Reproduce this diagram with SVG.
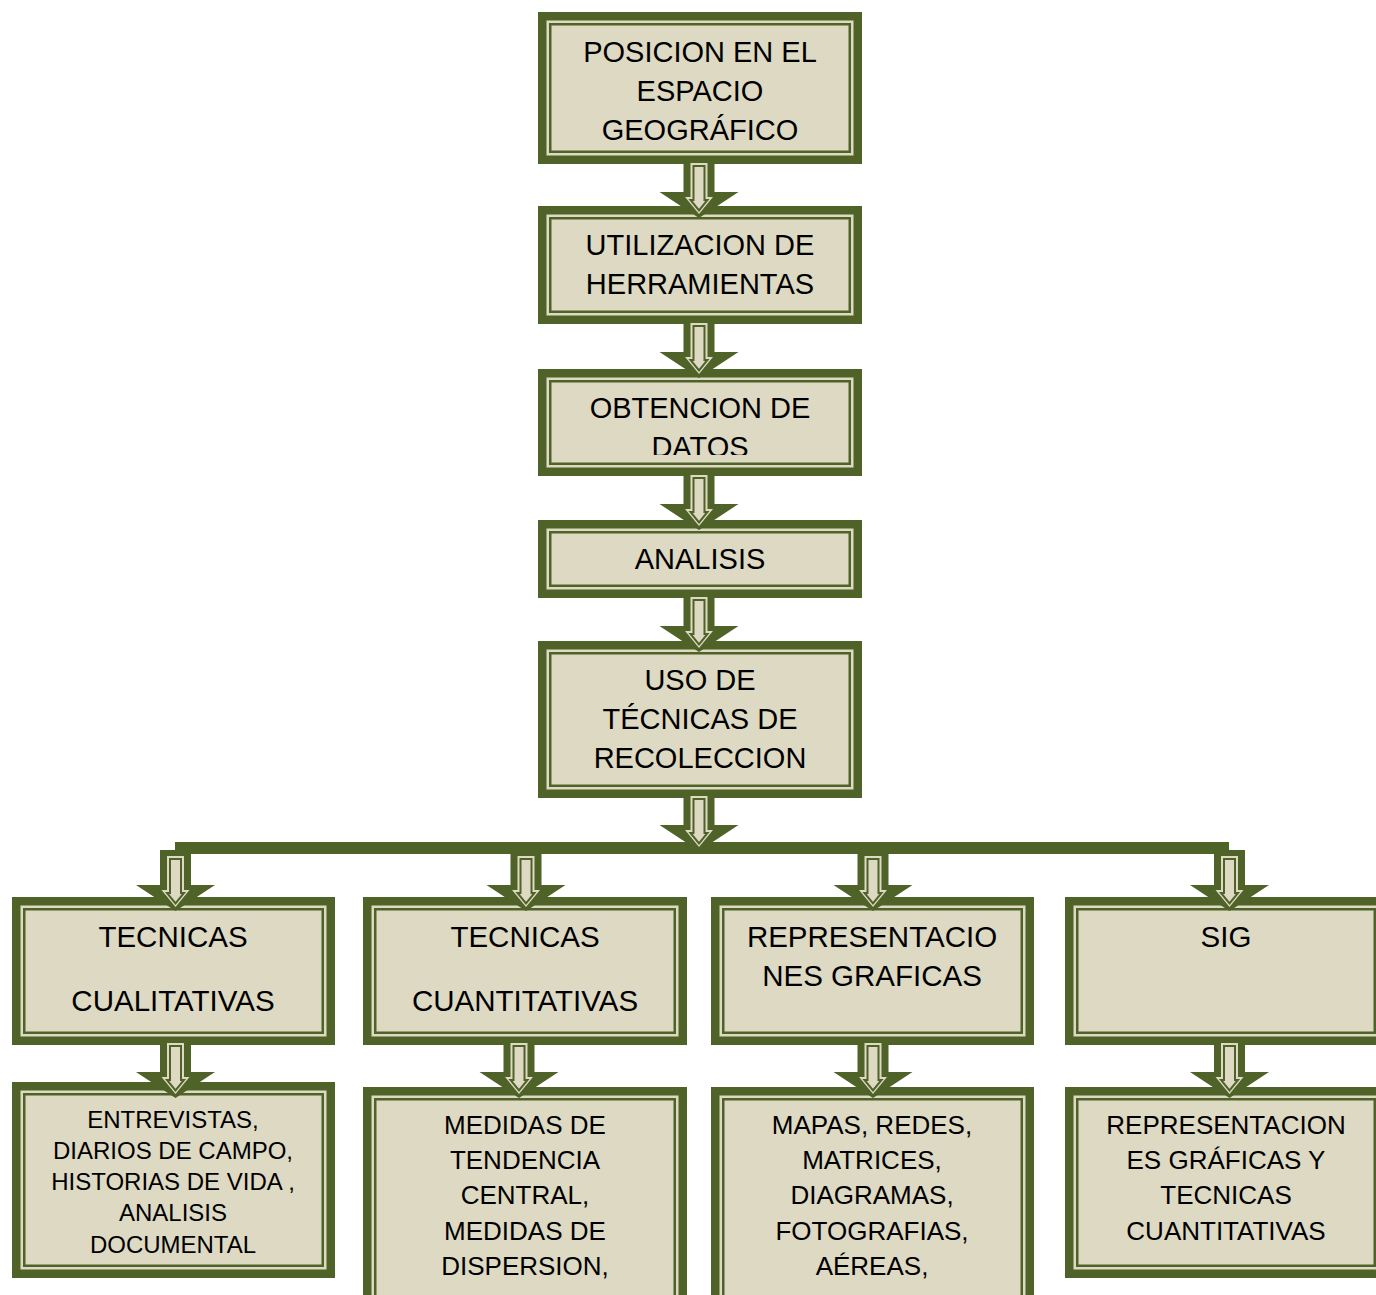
<svg xmlns="http://www.w3.org/2000/svg" xmlns:xlink="http://www.w3.org/1999/xlink" width="1376" height="1295" viewBox="0 0 1376 1295">
<style>
.o{fill:#4F6228}
.m{fill:#DDD9C3}
.i{fill:#DDD9C3;stroke:#4F6228;stroke-width:2.5}
.t{font-family:"Liberation Sans",Arial,sans-serif;font-size:29px;fill:#000;text-anchor:middle}
.b{font-size:29.5px}
.s{font-size:24px}
.u{font-size:26px}
</style>
<defs>
<g id="arr">
<path class="o" d="M-15.5,0 H15.5 V35 H39.5 L0,61 L-39.5,35 H-15.5 Z"/>
<path class="m" d="M-8.5,6 H8.5 V40 H14 L0,57 L-14,40 H-8.5 Z"/>
<path fill="#DDD9C3" stroke="#4F6228" stroke-width="2" d="M-5.5,9 H5.5 V43 H8.5 L0,53.5 L-8.5,43 H-5.5 Z"/>
</g>
<clipPath id="clipDatos"><rect x="538" y="369" width="324" height="86"/></clipPath>
</defs>
<rect width="1376" height="1295" fill="#fff"/>

<g id="n1">
<rect class="o" x="538" y="12" width="324" height="152"/>
<rect class="m" x="546.5" y="20.5" width="307" height="135"/>
<rect class="i" x="550.25" y="24.25" width="299.5" height="127.5"/>
<text class="t" x="700" y="61.5">POSICION EN EL</text>
<text class="t" x="700" y="100.5">ESPACIO</text>
<text class="t" x="700" y="139.5">GEOGRÁFICO</text>
</g>
<g id="n2">
<rect class="o" x="538" y="206" width="324" height="118"/>
<rect class="m" x="546.5" y="214.5" width="307" height="101"/>
<rect class="i" x="550.25" y="218.25" width="299.5" height="93.5"/>
<text class="t" x="700" y="254.5">UTILIZACION DE</text>
<text class="t" x="700" y="293.5">HERRAMIENTAS</text>
</g>
<g id="n3">
<rect class="o" x="538" y="369" width="324" height="107"/>
<rect class="m" x="546.5" y="377.5" width="307" height="90"/>
<rect class="i" x="550.25" y="381.25" width="299.5" height="82.5"/>
<text class="t" x="700" y="417.5">OBTENCION DE</text>
<text class="t" x="700" y="456.5" clip-path="url(#clipDatos)">DATOS</text>
</g>
<g id="n4">
<rect class="o" x="538" y="520" width="324" height="78"/>
<rect class="m" x="546.5" y="528.5" width="307" height="61"/>
<rect class="i" x="550.25" y="532.25" width="299.5" height="53.5"/>
<text class="t" x="700" y="568.5">ANALISIS</text>
</g>
<g id="n5">
<rect class="o" x="538" y="641" width="324" height="157"/>
<rect class="m" x="546.5" y="649.5" width="307" height="140"/>
<rect class="i" x="550.25" y="653.25" width="299.5" height="132.5"/>
<text class="t" x="700" y="689.5">USO DE</text>
<text class="t" x="700" y="728.5">TÉCNICAS DE</text>
<text class="t" x="700" y="767.5">RECOLECCION</text>
</g>

<g id="n6">
<rect class="o" x="12" y="897" width="323" height="148"/>
<rect class="m" x="20.5" y="905.5" width="306" height="131"/>
<rect class="i" x="24.25" y="909.25" width="298.5" height="123.5"/>
<text class="t b" x="173" y="946.5">TECNICAS</text>
<text class="t b" x="173" y="1011">CUALITATIVAS</text>
</g>
<g id="n7">
<rect class="o" x="363" y="897" width="324" height="148"/>
<rect class="m" x="371.5" y="905.5" width="307" height="131"/>
<rect class="i" x="375.25" y="909.25" width="299.5" height="123.5"/>
<text class="t b" x="525" y="946.5">TECNICAS</text>
<text class="t b" x="525" y="1011">CUANTITATIVAS</text>
</g>
<g id="n8">
<rect class="o" x="711" y="897" width="323" height="148"/>
<rect class="m" x="719.5" y="905.5" width="306" height="131"/>
<rect class="i" x="723.25" y="909.25" width="298.5" height="123.5"/>
<text class="t b" x="872" y="946.5">REPRESENTACIO</text>
<text class="t b" x="872" y="985.5">NES GRAFICAS</text>
</g>
<g id="n9">
<rect class="o" x="1065" y="897" width="322" height="148"/>
<rect class="m" x="1073.5" y="905.5" width="305" height="131"/>
<rect class="i" x="1077.25" y="909.25" width="297.5" height="123.5"/>
<text class="t b" x="1226" y="946.5">SIG</text>
</g>

<g id="n10">
<rect class="o" x="12" y="1082" width="323" height="196"/>
<rect class="m" x="20.5" y="1090.5" width="306" height="179"/>
<rect class="i" x="24.25" y="1094.25" width="298.5" height="171.5"/>
<text class="t s" x="173" y="1127.5">ENTREVISTAS,</text>
<text class="t s" x="173" y="1158.8">DIARIOS DE CAMPO,</text>
<text class="t s" x="173" y="1190.1">HISTORIAS DE VIDA ,</text>
<text class="t s" x="173" y="1221.4">ANALISIS</text>
<text class="t s" x="173" y="1252.7">DOCUMENTAL</text>
</g>
<g id="n11">
<rect class="o" x="363" y="1087" width="324" height="230"/>
<rect class="m" x="371.5" y="1095.5" width="307" height="213"/>
<rect class="i" x="375.25" y="1099.25" width="299.5" height="205.5"/>
<text class="t u" x="525" y="1134">MEDIDAS DE</text>
<text class="t u" x="525" y="1169.2">TENDENCIA</text>
<text class="t u" x="525" y="1204.4">CENTRAL,</text>
<text class="t u" x="525" y="1239.6">MEDIDAS DE</text>
<text class="t u" x="525" y="1274.8">DISPERSION,</text>
</g>
<g id="n12">
<rect class="o" x="711" y="1087" width="323" height="230"/>
<rect class="m" x="719.5" y="1095.5" width="306" height="213"/>
<rect class="i" x="723.25" y="1099.25" width="298.5" height="205.5"/>
<text class="t u" x="872" y="1134">MAPAS, REDES,</text>
<text class="t u" x="872" y="1169.2">MATRICES,</text>
<text class="t u" x="872" y="1204.4">DIAGRAMAS,</text>
<text class="t u" x="872" y="1239.6">FOTOGRAFIAS,</text>
<text class="t u" x="872" y="1274.8">AÉREAS,</text>
</g>
<g id="n13">
<rect class="o" x="1065" y="1087" width="322" height="191"/>
<rect class="m" x="1073.5" y="1095.5" width="305" height="174"/>
<rect class="i" x="1077.25" y="1099.25" width="297.5" height="166.5"/>
<text class="t u" x="1226" y="1134">REPRESENTACION</text>
<text class="t u" x="1226" y="1169.2">ES GRÁFICAS Y</text>
<text class="t u" x="1226" y="1204.4">TECNICAS</text>
<text class="t u" x="1226" y="1239.6">CUANTITATIVAS</text>
</g>

<g id="connectors">
<rect class="o" x="175" y="842" width="1054" height="12"/>
<use xlink:href="#arr" transform="translate(699,157)"/>
<use xlink:href="#arr" transform="translate(699,317)"/>
<use xlink:href="#arr" transform="translate(699,469)"/>
<use xlink:href="#arr" transform="translate(699,591)"/>
<use xlink:href="#arr" transform="translate(699,790)"/>
<use xlink:href="#arr" transform="translate(175.5,850)"/>
<use xlink:href="#arr" transform="translate(526,850)"/>
<use xlink:href="#arr" transform="translate(873,850)"/>
<use xlink:href="#arr" transform="translate(1229.5,850)"/>
<use xlink:href="#arr" transform="translate(175.5,1037)"/>
<use xlink:href="#arr" transform="translate(519,1037)"/>
<use xlink:href="#arr" transform="translate(873,1037)"/>
<use xlink:href="#arr" transform="translate(1229.5,1037)"/>
</g>
</svg>
